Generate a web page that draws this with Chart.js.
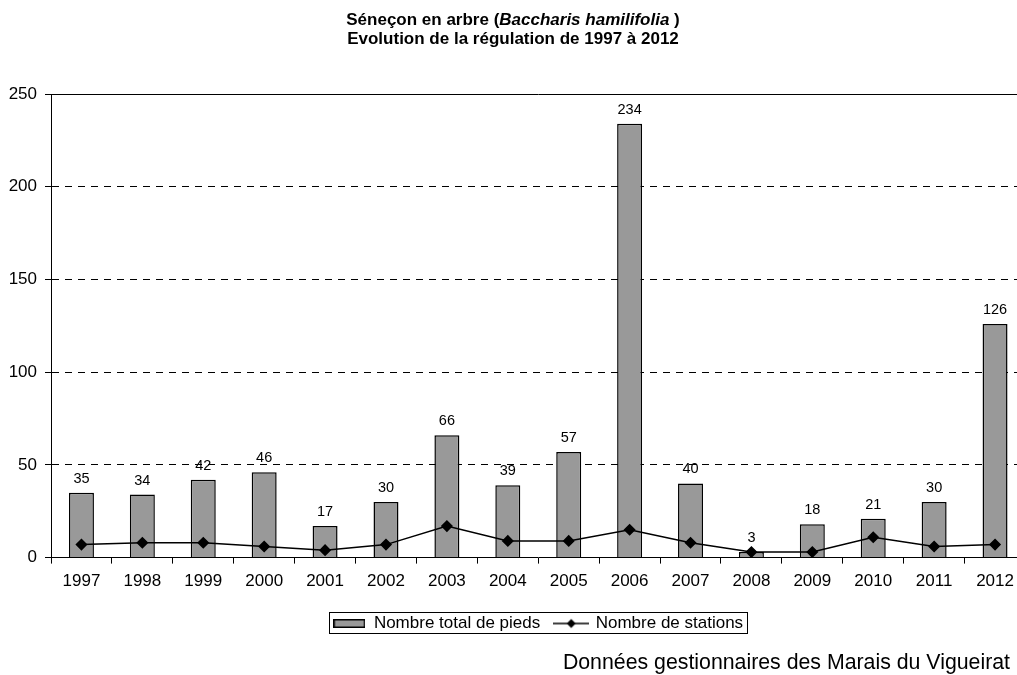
<!DOCTYPE html>
<html>
<head>
<meta charset="utf-8">
<script src="https://cdn.jsdelivr.net/npm/chart.js@4/dist/chart.umd.min.js"></script>
<style>
html, body { margin: 0; padding: 0; background: #fff; overflow: hidden; }
#wrap { width: 1032px; height: 675px; }
</style>
</head>
<body>
<div id="wrap"><canvas id="regulationChart"></canvas></div>
<script>
var years = ['1997', '1998', '1999', '2000', '2001', '2002', '2003', '2004',
             '2005', '2006', '2007', '2008', '2009', '2010', '2011', '2012'];
var nombrePieds = [35, 34, 42, 46, 17, 30, 66, 39, 57, 234, 40, 3, 18, 21, 30, 126];
var nombreStations = [7, 8, 8, 6, 4, 7, 17, 9, 9, 15, 8, 3, 3, 11, 6, 7];
var yTicks = [0, 50, 100, 150, 200, 250];

var FONT = '"Liberation Sans", Arial, sans-serif';
var GRIS = '#999999';

// petites images pour la légende
function makeSwatch(w, h, draw) {
    var c = document.createElement('canvas');
    c.width = w; c.height = h;
    draw(c.getContext('2d'));
    return c;
}
var barSwatch = makeSwatch(32, 9, function(g) {
    g.fillStyle = GRIS;
    g.fillRect(0, 0, 32, 9);
    g.strokeStyle = '#000';
    g.lineWidth = 1.5;
    g.strokeRect(0.75, 0.75, 30.5, 7.5);
});
var lineSwatch = makeSwatch(36, 12, function(g) {
    g.strokeStyle = '#000';
    g.lineWidth = 1.5;
    g.beginPath(); g.moveTo(0, 6); g.lineTo(36, 6); g.stroke();
    g.fillStyle = '#000';
    g.beginPath(); g.moveTo(18, 1.5); g.lineTo(22.5, 6); g.lineTo(18, 10.5); g.lineTo(13.5, 6); g.closePath(); g.fill();
});

// titre, source et étiquettes de valeurs
var textesPlugin = {
    id: 'textes',
    afterDatasetsDraw: function(chart) {
        var ctx = chart.ctx;
        var meta = chart.getDatasetMeta(0);
        ctx.save();
        ctx.fillStyle = '#000';
        ctx.font = '14.5px ' + FONT;
        ctx.textAlign = 'center';
        ctx.textBaseline = 'alphabetic';
        meta.data.forEach(function(bar, i) {
            ctx.fillText(String(nombrePieds[i]), bar.x, bar.y - 10);
        });
        ctx.restore();
    },
    afterDraw: function(chart) {
        var ctx = chart.ctx;
        var cx = 513;
        ctx.save();
        ctx.fillStyle = '#000';
        ctx.textBaseline = 'alphabetic';
        var parts = [
            ['bold 17px ' + FONT, 'Séneçon en arbre ('],
            ['italic bold 17px ' + FONT, 'Baccharis hamilifolia'],
            ['bold 17px ' + FONT, ' )']
        ];
        var total = 0;
        parts.forEach(function(p) { ctx.font = p[0]; total += ctx.measureText(p[1]).width; });
        var x = cx - total / 2;
        ctx.textAlign = 'left';
        parts.forEach(function(p) {
            ctx.font = p[0];
            ctx.fillText(p[1], x, 25);
            x += ctx.measureText(p[1]).width;
        });
        ctx.font = 'bold 17px ' + FONT;
        ctx.textAlign = 'center';
        ctx.fillText('Evolution de la régulation de 1997 à 2012', cx, 44);

        ctx.font = '21.3px ' + FONT;
        ctx.textAlign = 'right';
        ctx.fillText('Données gestionnaires des Marais du Vigueirat', 1010, 669);

        // cadre de la légende
        var boxes = chart.legend.legendHitBoxes;
        if (boxes && boxes.length) {
            var l = Infinity, r = -Infinity, t = Infinity, b = -Infinity;
            boxes.forEach(function(hb) {
                l = Math.min(l, hb.left); r = Math.max(r, hb.left + hb.width);
                t = Math.min(t, hb.top); b = Math.max(b, hb.top + hb.height);
            });
            ctx.strokeStyle = '#000';
            ctx.lineWidth = 1;
            ctx.strokeRect(Math.round(l - 4) + 0.5, Math.round(t - 3) + 0.5, Math.round(r - l + 8), Math.round(b - t + 4));
        }
        ctx.restore();
    }
};

var ctx = document.getElementById('regulationChart').getContext('2d');
var regulationChart = new Chart(ctx, {
    type: 'bar',
    data: {
        labels: years,
        datasets: [{
            label: 'Nombre total de pieds',
            data: nombrePieds,
            backgroundColor: GRIS,
            borderColor: '#000',
            borderWidth: 1.5,
            barPercentage: 0.41,
            categoryPercentage: 1,
            order: 1
        }, {
            type: 'line',
            label: 'Nombre de stations',
            data: nombreStations,
            borderColor: '#000',
            backgroundColor: '#000',
            borderWidth: 1.5,
            tension: 0,
            pointStyle: 'rectRot',
            pointRadius: 5,
            pointBackgroundColor: '#000',
            pointBorderColor: '#000',
            order: 0
        }]
    },
    options: {
        responsive: true,
        maintainAspectRatio: false,
        animation: false,
        layout: { padding: { top: 94, left: 0, right: 1, bottom: 33 } },
        plugins: {
            title: { display: false },
            tooltip: { enabled: false },
            legend: {
                position: 'bottom',
                fullSize: false,
                labels: {
                    color: '#000',
                    font: { size: 17, family: FONT },
                    usePointStyle: true,
                    pointStyleWidth: 32,
                    boxHeight: 12,
                    padding: 15,
                    generateLabels: function() {
                        return [
                            { text: 'Nombre total de pieds', pointStyle: barSwatch, fillStyle: GRIS, strokeStyle: '#000', lineWidth: 0, datasetIndex: 0 },
                            { text: 'Nombre de stations', pointStyle: lineSwatch, fillStyle: '#000', strokeStyle: '#000', lineWidth: 0, datasetIndex: 1 }
                        ];
                    }
                }
            }
        },
        scales: {
            x: {
                grid: { display: true, drawOnChartArea: false, drawTicks: true, tickLength: 6, color: '#000', offset: true },
                border: { color: '#000', width: 1 },
                ticks: { color: '#000', font: { size: 17, family: FONT }, padding: 8, maxRotation: 0, autoSkip: false }
            },
            xTop: {
                type: 'category',
                position: 'top',
                labels: years,
                grid: { display: true, drawOnChartArea: false, drawTicks: false },
                border: { display: true, color: '#000', width: 1 },
                ticks: { display: false },
                afterFit: function(scale) { scale.height = 0; }
            },
            y: {
                min: yTicks[0],
                max: yTicks[yTicks.length - 1],
                ticks: { stepSize: yTicks[1] - yTicks[0], color: '#000', font: { size: 17, family: FONT }, padding: 8 },
                grid: {
                    color: function(c) {
                        return (c.tick && (c.tick.value === 0 || c.tick.value === 250)) ? 'rgba(0,0,0,0)' : '#000';
                    },
                    tickColor: '#000',
                    tickLength: 6,
                    tickBorderDash: []
                },
                border: { color: '#000', width: 1, dash: [7, 6] },
                afterFit: function(scale) { scale.width = 51; }
            }
        }
    },
    plugins: [textesPlugin]
});
</script>
</body>
</html>
